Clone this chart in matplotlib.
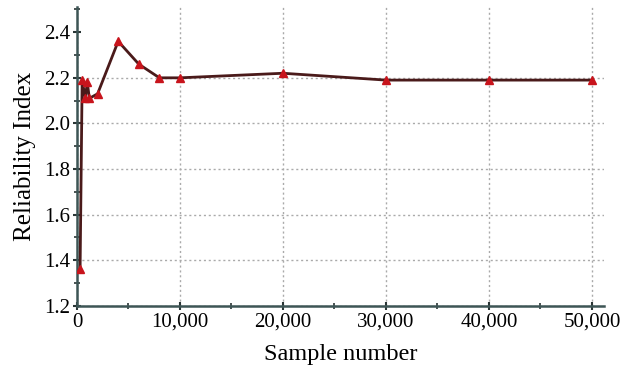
import matplotlib
matplotlib.use("Agg")
import matplotlib.pyplot as plt
from matplotlib.ticker import MultipleLocator, FuncFormatter

# Sample number vs reliability index
samples = [300, 500, 800, 1000, 1200, 2000, 4000, 6000, 8000, 10000,
           20000, 30000, 40000, 50000]
reliability = [1.36, 2.19, 2.11, 2.18, 2.11, 2.13, 2.36, 2.26, 2.20, 2.20,
               2.22, 2.19, 2.19, 2.19]

plt.rcParams['font.family'] = ['Liberation Serif', 'DejaVu Serif']

fig = plt.figure(figsize=(6.21, 3.74), dpi=100)
ax = fig.add_axes([0.124, 0.182, 0.849, 0.799])

ax.plot(samples, reliability, color='#4a1a1a', lw=2.0, zorder=3)
ax.plot(samples, reliability, ls='none', marker='^', ms=6,
        color='#c8141c', zorder=4)

ax.set_xlim(0, 51200)
ax.set_ylim(1.2, 2.51)
ax.xaxis.set_major_locator(MultipleLocator(10000))
ax.xaxis.set_minor_locator(MultipleLocator(5000))
ax.yaxis.set_major_locator(MultipleLocator(0.2))
ax.yaxis.set_minor_locator(MultipleLocator(0.1))
ax.xaxis.set_major_formatter(FuncFormatter(lambda v, p: f"{int(v):,}"))
ax.yaxis.set_major_formatter(FuncFormatter(lambda v, p: f"{v:.1f}"))

ax.grid(True, which='major', color='#aaaaaa', ls=(0, (1.5, 2)), lw=1)
for s in ['top', 'right']:
    ax.spines[s].set_visible(False)
for s in ['left', 'bottom']:
    ax.spines[s].set_color('#3d5555')
    ax.spines[s].set_linewidth(1.8)

ax.tick_params(which='major', direction='inout', length=6, width=1.5,
               color='#2a3535', labelsize=15, pad=2)
ax.tick_params(which='minor', direction='inout', length=4, width=1.2,
               color='#2a3535')

# no grid line at the top tick in the original
fig.canvas.draw()
for tick in ax.yaxis.get_major_ticks():
    if abs(tick.get_loc() - 2.4) < 1e-6:
        tick.gridline.set_visible(False)

ax.set_xlabel('Sample number', fontsize=17.5, labelpad=9)
ax.set_ylabel('Reliability Index', fontsize=18, labelpad=6)

fig.savefig('out.png', dpi=100)
